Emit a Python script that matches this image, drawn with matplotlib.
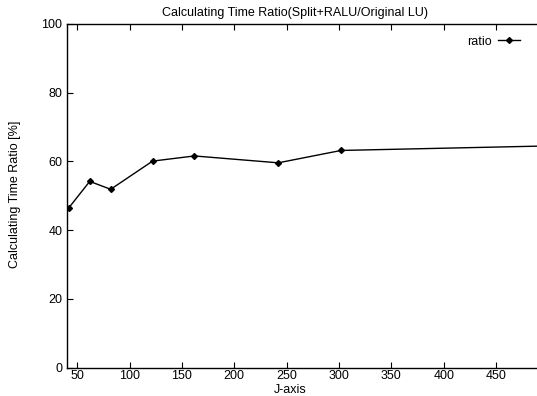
import matplotlib
matplotlib.use("Agg")
import matplotlib.pyplot as plt

# %% Data
j_axis = [42, 62, 82, 122, 162, 242, 302, 512]
ratio = [46.5, 54.2, 51.9, 60.1, 61.6, 59.6, 63.2, 64.6]

x_ticks = [50, 100, 150, 200, 250, 300, 350, 400, 450]
y_ticks = [0, 20, 40, 60, 80, 100]

plt.rcParams["font.family"] = ["Liberation Sans", "DejaVu Sans"]
plt.rcParams["font.size"] = 9

fig = plt.figure(figsize=(5.37, 3.96), dpi=100)
# axes runs past the right edge, the reference is cropped there
ax = fig.add_axes([0.1242, 0.0715, 0.9205, 0.868])

ax.plot(
    j_axis,
    ratio,
    color="black",
    linewidth=1.0,
    marker="D",
    markersize=3,
    label="ratio",
)

ax.set_xlim(40, 512)
ax.set_ylim(0, 100)
ax.set_xticks(x_ticks)
ax.set_yticks(y_ticks)
ax.tick_params(direction="in", length=4, top=True, right=False, pad=3)
ax.tick_params(axis="x", pad=2)
for s in ax.spines.values():
    s.set_linewidth(1.0)

fig.text(0.55, 0.967, "Calculating Time Ratio(Split+RALU/Original LU)",
         ha="center", va="center", fontsize=9)
fig.text(0.54, 0.014, "J-axis", ha="center", va="center", fontsize=9)
fig.text(0.028, 0.51, "Calculating Time Ratio [%]", ha="center", va="center",
         rotation=90, fontsize=9)

ax.legend(
    loc="center right",
    bbox_to_anchor=(0.99, 0.895),
    bbox_transform=fig.transFigure,
    frameon=False,
    markerfirst=False,
    handlelength=1.8,
    handletextpad=0.5,
    fontsize=9,
)

fig.savefig("out.png", dpi=100)
